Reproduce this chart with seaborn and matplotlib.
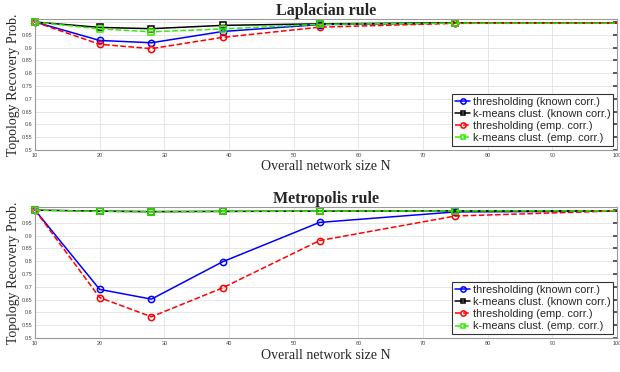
import matplotlib
matplotlib.use("Agg")
import matplotlib.pyplot as plt
import seaborn as sns
import pandas as pd
from matplotlib.ticker import FuncFormatter

N = [10, 20, 28, 39, 54, 75, 100]

lap_thr_known = [1.0, 0.928, 0.919, 0.963, 0.990, 0.996, 0.996]
lap_km_known = [1.0, 0.979, 0.974, 0.987, 0.993, 0.997, 0.997]
lap_thr_emp = [1.0, 0.913, 0.896, 0.940, 0.980, 0.995, 0.996]
lap_km_emp = [1.0, 0.973, 0.962, 0.973, 0.991, 0.996, 0.996]

met_thr_known = [1.0, 0.690, 0.652, 0.798, 0.952, 0.993, 0.996]
met_km_known = [1.0, 0.996, 0.994, 0.995, 0.996, 0.997, 0.997]
met_thr_emp = [1.0, 0.658, 0.583, 0.696, 0.881, 0.977, 0.997]
met_km_emp = [1.0, 0.995, 0.993, 0.995, 0.996, 0.997, 0.997]

series_names = ["thresholding (known corr.)", "k-means clust. (known corr.)",
                "thresholding (emp. corr.)", "k-means clust. (emp. corr.)"]
colors = ["#0000FF", "#000000", "#FF0000", "#33EE00"]
markers = ["o", "s", "o", "s"]
dashes = [False, False, True, True]

sns.set_theme(style="whitegrid")
plt.rcParams["font.family"] = ["Liberation Serif", "DejaVu Serif"]

fig = plt.figure(figsize=(6.2, 3.72), dpi=100)
ax1 = fig.add_axes([0.0565, 0.597, 0.9387, 0.352])
ax2 = fig.add_axes([0.0565, 0.0914, 0.9387, 0.352])

def draw(ax, data, title):
    for name, vals, c, m, d in zip(series_names, data, colors, markers, dashes):
        df = pd.DataFrame({"N": N, "p": vals})
        sns.lineplot(data=df, x="N", y="p", ax=ax, color=c, marker=m,
                     markersize=4.5 if m == "o" else 4, markerfacecolor="none",
                     markeredgecolor=c, markeredgewidth=1.1, linewidth=1.1,
                     label=name, linestyle="--" if d else "-", clip_on=False,
                     markevery=list(range(len(N) - 1)))
    ax.set_xlim(10, 100)
    ax.set_ylim(0.5, 1.012)
    ax.set_xticks(range(10, 101, 10))
    ax.set_yticks([0.5 + 0.05 * i for i in range(11)])
    ax.yaxis.set_major_formatter(FuncFormatter(lambda v, p: f"{v:g}"))
    ax.tick_params(axis="both", labelsize=4, length=3, direction="in",
                   right=True, top=False, colors="#444444", pad=2)
    for lab in ax.get_xticklabels() + ax.get_yticklabels():
        lab.set_family(["Liberation Sans", "DejaVu Sans"])
    ax.grid(True, color="#e6e6e6", linewidth=0.7)
    for s in ax.spines.values():
        s.set_color("#999999")
        s.set_linewidth(0.8)
    ax.set_title(title, fontsize=11.5, fontweight="bold", pad=3)
    ax.set_xlabel("Overall network size N", fontsize=10, labelpad=2)
    ax.set_ylabel("Topology Recovery Prob.", fontsize=10, labelpad=1)
    leg = ax.legend(loc="lower right", frameon=True, fancybox=False,
                    borderpad=0.25, labelspacing=0.2, handlelength=1.4,
                    handletextpad=0.2, borderaxespad=0.35, markerscale=0.85,
                    prop={"family": ["Liberation Sans", "DejaVu Sans"], "size": 7.9})
    leg.get_frame().set_edgecolor("#333333")
    leg.get_frame().set_linewidth(0.8)
    leg.get_frame().set_alpha(1)

draw(ax1, [lap_thr_known, lap_km_known, lap_thr_emp, lap_km_emp], "Laplacian rule")
draw(ax2, [met_thr_known, met_km_known, met_thr_emp, met_km_emp], "Metropolis rule")

fig.savefig("out.png", dpi=100)
